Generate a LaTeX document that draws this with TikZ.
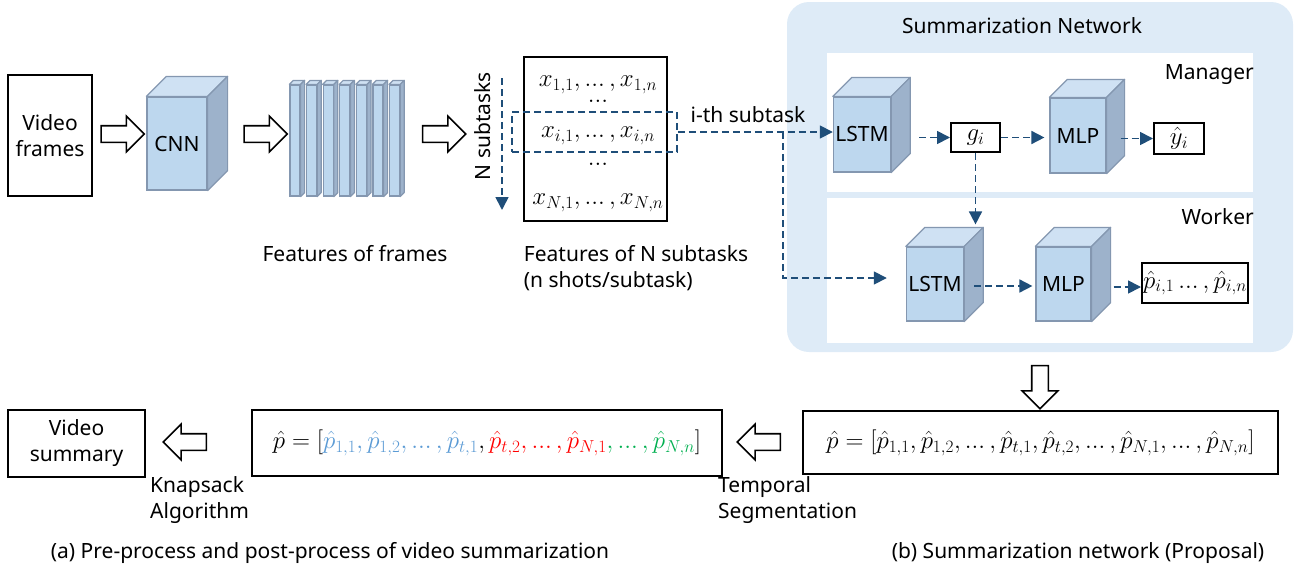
\documentclass[tikz,border=0pt]{standalone}
\usepackage{fontspec}
\setmainfont{Noto Sans}
\usetikzlibrary{arrows.meta, positioning, calc, shapes.arrows}

\definecolor{panelblue}{HTML}{DEEBF7}
\definecolor{cubefront}{HTML}{BDD7EE}
\definecolor{cubetop}{HTML}{CFE1F3}
\definecolor{cubeside}{HTML}{9DB2CB}
\definecolor{cubeedge}{HTML}{8497B0}
\definecolor{flowblue}{HTML}{1F4E79}
\definecolor{segblue}{HTML}{5B9BD5}
\definecolor{segred}{HTML}{FF0000}
\definecolor{seggreen}{HTML}{00B050}

% top and side faces of a block drawn on a front-face node
\newcommand{\cubedepth}[2]{%
  \draw[cubeedge, line width=1.2pt, line join=round, fill=cubetop] (#1.north west) -- ++(#2,-#2) -- ($(#1.north east)+(#2,-#2)$) -- (#1.north east) -- cycle;
  \draw[cubeedge, line width=1.2pt, line join=round, fill=cubeside] (#1.north east) -- ++(#2,-#2) -- ($(#1.south east)+(#2,-#2)$) -- (#1.south east) -- cycle;
}
% compact dots as in the formulas
\newcommand{\sdots}{\mathinner{\ldotp\!\ldotp\!\ldotp}}

\begin{document}
\begin{tikzpicture}[
    x=1pt, y=-1pt,
    every node/.style={font=\fontsize{21}{26}\selectfont, inner sep=2pt},
    mathtext/.style={font=\fontsize{23}{28}\selectfont},
    frame/.style={draw=black, line width=2pt, fill=white},
    cube/.style={draw=cubeedge, line width=1.2pt, fill=cubefront},
    slab/.style={cube, minimum width=10, minimum height=111, inner sep=0},
    flow/.style={draw=flowblue, line width=1.7pt, dash pattern=on 7pt off 4pt, -{Triangle[length=13pt, width=13pt]}},
    selbox/.style={draw=flowblue, line width=1.7pt, dash pattern=on 7pt off 4pt},
    hollow/.style={single arrow, draw=black, line width=1.6pt, fill=white, minimum height=43, inner sep=7.5pt, single arrow head extend=9.5pt},
    ]
    \useasboundingbox (0,0) rectangle (1311,573);
    
    % Pre-process
    \node[frame, minimum width=84, minimum height=121, align=center] (vframes) at (50,135.5) {Video\\frames};
    \node[cube, minimum width=60, minimum height=93] (cnn) at (177,143.5) {CNN};
    \cubedepth{cnn}{20}
    \foreach \i in {0,...,6} {
        \node[slab] (f\i) at ({295+\i*16.6},140.5) {};
        \cubedepth{f\i}{4}
    }
    \node[hollow] (h1) at (118.5,134) {};
    \node[hollow] (h2) at (261.5,134) {};
    \node[hollow] (h3) at (440,134) {};
    \node (ffeat) at (355,254) {Features of frames};
    
    % Subtask features
    \node[frame, minimum width=143, minimum height=164] (mat) at (595.5,139) {};
    \node[mathtext] (r1) at (598,85) {$x_{1,1},\sdots,x_{1,n}$};
    \node[mathtext] (d1) at (598,101) {$\sdots$};
    \node[mathtext] (ri) at (598,136) {$x_{i,1},\sdots,x_{i,n}$};
    \node[mathtext] (d2) at (598,164) {$\sdots$};
    \node[mathtext] (rN) at (598,203) {$x_{N,1},\sdots,x_{N,n}$};
    \node[selbox, minimum width=165, minimum height=40] (sel) at (594.5,132) {};
    \node[rotate=90] (nsub) at (483,126) {N subtasks};
    \coordinate (ntop) at (502,78);
    \coordinate (nbot) at (502,210);
    \draw[flow] (ntop) -- (nbot);
    \node[align=left] (fsub) at (636,268) {Features of N subtasks\\(n shots/subtask)};
    
    % Summarization network
    \node[fill=panelblue, rounded corners=22, minimum width=506, minimum height=350] (net) at (1040,177) {};
    \node (nettitle) at (1022,26) {Summarization Network};
    \node[fill=white, minimum width=426, minimum height=139] (mgr) at (1040,122.5) {};
    \node[fill=white, minimum width=426, minimum height=145] (wrk) at (1040,270.5) {};
    \node[anchor=east] at (1256,75) {Manager};
    \node[anchor=east] at (1256,217) {Worker};
    
    \node[cube, minimum width=56, minimum height=75] (mlstm) at (862,134.5) {LSTM};
    \cubedepth{mlstm}{19}
    \node[frame, mathtext, minimum width=49, minimum height=29, inner sep=0] (gi) at (975.5,137.5) {$g_i$};
    \node[cube, minimum width=56, minimum height=75] (mmlp) at (1078,135.5) {MLP};
    \cubedepth{mmlp}{18}
    \node[frame, mathtext, minimum width=50, minimum height=31, inner sep=0] (yhat) at (1179,138.5) {$\hat{y}_i$};
    
    \node[cube, minimum width=56, minimum height=74] (wlstm) at (935,284) {LSTM};
    \cubedepth{wlstm}{19}
    \node[cube, minimum width=55, minimum height=74] (wmlp) at (1063.5,284) {MLP};
    \cubedepth{wmlp}{19}
    \node[frame, mathtext, minimum width=106, minimum height=40, inner sep=0] (pi) at (1195,283) {$\hat{p}_{i,1}\sdots,\hat{p}_{i,n}$};
    
    % Dashed flow
    \coordinate (split) at (783,132);
    \draw[flow] (sel.east) -- (sel.east -| mlstm.west);
    \node (ith) at (748,115) {i-th subtask};
    \draw[flow, shorten >=19pt] (split) |- ([yshift=6pt]wlstm.west);
    \draw[flow, shorten <=28pt] (mlstm.east |- gi.west) -- (gi.west);
    \draw[flow, shorten >=5pt] (gi.east) -- (gi.east -| mmlp.west);
    \draw[flow, shorten <=14pt] (mmlp.east |- yhat.west) -- (yhat.west);
    \draw[flow, shorten >=22pt] (gi.south) -- (gi.south |- wlstm.north);
    \draw[flow, shorten <=10pt, shorten >=3pt] ([yshift=-2pt]wlstm.east) -- ([yshift=-2pt]wmlp.west);
    \draw[flow, shorten <=22pt] ([yshift=-3pt]wmlp.east) -- ([yshift=-3pt]wmlp.east -| pi.west);
    
    % Post-process
    \node[hollow, shape border rotate=270] (hd) at (1040,383) {};
    \node[frame, mathtext, minimum width=475, minimum height=63] (praw) at (1040.5,442.5) {$\hat{p}=[\hat{p}_{1,1},\hat{p}_{1,2},\sdots,\hat{p}_{t,1},\hat{p}_{t,2},\sdots,\hat{p}_{N,1},\sdots,\hat{p}_{N,n}]$};
    \node[hollow, shape border rotate=180] (hl1) at (763,442) {};
    \node[frame, mathtext, minimum width=470, minimum height=66] (pseg) at (487,443) {$\hat{p}=[\textcolor{segblue}{\hat{p}_{1,1},\hat{p}_{1,2},\sdots,\hat{p}_{t,1}},\textcolor{segred}{\hat{p}_{t,2},\sdots,\hat{p}_{N,1}}\textcolor{seggreen}{,\sdots,\hat{p}_{N,n}}]$};
    \node[hollow, shape border rotate=180] (hl2) at (189,442) {};
    \node[frame, minimum width=137, minimum height=67, align=center] (vsum) at (76.5,443.5) {Video\\summary};
    \node[anchor=north west, align=left] (tseg) at (716,474) {Temporal\\Segmentation};
    \node[anchor=north west, align=left] (knap) at (148,474) {Knapsack\\Algorithm};
    
    % Captions
    \node (capa) at (330,553) {(a) Pre-process and post-process of video summarization};
    \node (capb) at (1078,553) {(b) Summarization network (Proposal)};
\end{tikzpicture}
\end{document}
